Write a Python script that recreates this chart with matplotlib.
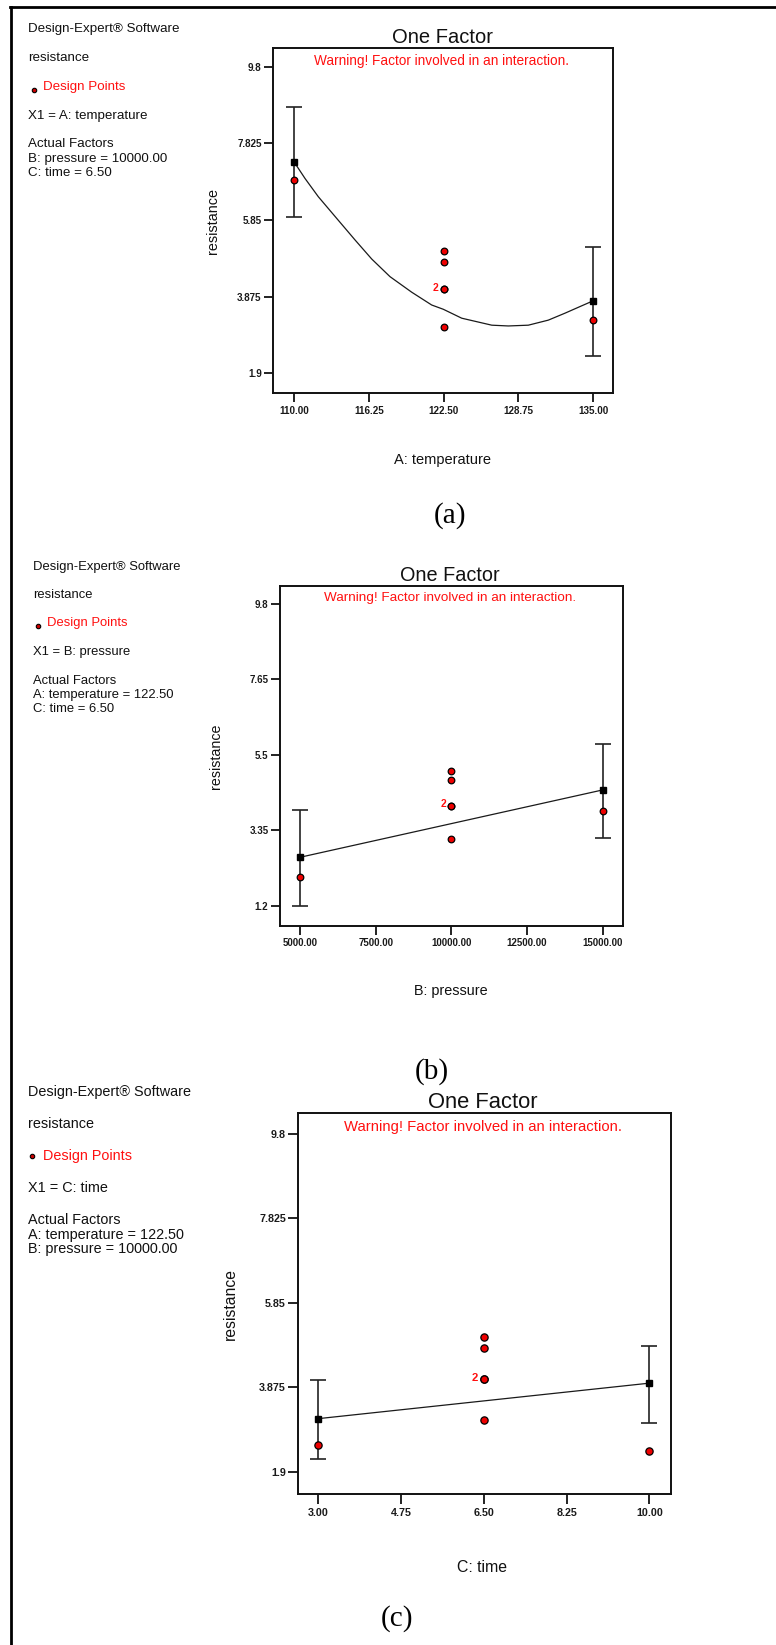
import matplotlib
matplotlib.use('Agg')
import matplotlib.pyplot as plt
from matplotlib.lines import Line2D
import numpy as np

# ---------------- data ----------------
# Panel (a): A: temperature
a_xticks = [110.00, 116.25, 122.50, 128.75, 135.00]
a_xticklabels = ["110.00", "116.25", "122.50", "128.75", "135.00"]
a_yticks = [1.9, 3.875, 5.85, 7.825, 9.8]
a_yticklabels = ["1.9", "3.875", "5.85", "7.825", "9.8"]
a_curve_x = [110.0, 110.92, 112.03, 113.57, 115.10, 116.49, 118.02, 119.83, 121.5,
             122.47, 124.01, 126.52, 127.9, 129.57, 131.24, 132.64, 133.89, 135.0]
a_curve_y = [7.35, 6.92, 6.45, 5.89, 5.335, 4.845, 4.39, 3.99, 3.66,
             3.55, 3.32, 3.14, 3.12, 3.14, 3.27, 3.45, 3.62, 3.77]
a_end_x = [110.0, 135.0]
a_end_pred = [7.35, 3.77]
a_end_lo = [5.94, 2.345]
a_end_hi = [8.77, 5.155]
a_pts_x = [110.0, 122.5, 122.5, 122.5, 122.5, 122.5, 135.0]
a_pts_y = [6.89, 5.05, 4.78, 4.06, 4.06, 3.10, 3.27]
a_dup = (122.5, 4.06)

# Panel (b): B: pressure
b_xticks = [5000, 7500, 10000, 12500, 15000]
b_xticklabels = ["5000.00", "7500.00", "10000.00", "12500.00", "15000.00"]
b_yticks = [1.2, 3.35, 5.5, 7.65, 9.8]
b_yticklabels = ["1.2", "3.35", "5.5", "7.65", "9.8"]
b_line_x = [5000, 15000]
b_line_y = [2.58, 4.50]
b_end_x = [5000, 15000]
b_end_pred = [2.58, 4.50]
b_end_lo = [1.20, 3.12]
b_end_hi = [3.93, 5.81]
b_pts_x = [5000, 10000, 10000, 10000, 10000, 10000, 15000]
b_pts_y = [2.01, 5.03, 4.79, 4.04, 4.04, 3.11, 3.91]
b_dup = (10000, 4.04)

# Panel (c): C: time
c_xticks = [3.00, 4.75, 6.50, 8.25, 10.00]
c_xticklabels = ["3.00", "4.75", "6.50", "8.25", "10.00"]
c_yticks = [1.9, 3.875, 5.85, 7.825, 9.8]
c_yticklabels = ["1.9", "3.875", "5.85", "7.825", "9.8"]
c_line_x = [3.0, 10.0]
c_line_y = [3.14, 3.97]
c_end_x = [3.0, 10.0]
c_end_pred = [3.14, 3.97]
c_end_lo = [2.20, 3.04]
c_end_hi = [4.05, 4.83]
c_pts_x = [3.0, 6.5, 6.5, 6.5, 6.5, 6.5, 10.0]
c_pts_y = [2.53, 5.05, 4.79, 4.06, 4.06, 3.11, 2.38]
c_dup = (6.5, 4.06)

# ---------------- figure ----------------
W, H = 776, 1645
DPI = 100
plt.rcParams['font.family'] = ['Liberation Sans', 'DejaVu Sans']
fig = plt.figure(figsize=(W / DPI, H / DPI), dpi=DPI)
fig.patch.set_facecolor('white')


def rect(l, t, r, b):
    return [l / W, 1 - b / H, (r - l) / W, (b - t) / H]


def fx(x):
    return x / W


def fy(y):
    return 1 - y / H


RED = '#ff1010'


def panel(box, xlim, ylim, xticks, xtl, yticks, ytl, lx, ly, ex, ep, elo, ehi,
          px, py, dup, xlabel, s, xl_pos, yl_pos, title_pos, warn_pos):
    ax = fig.add_axes(rect(*box))
    ax.set_xlim(*xlim)
    ax.set_ylim(*ylim)
    for sp in ax.spines.values():
        sp.set_linewidth(1.4)
        sp.set_color('#111111')
    ax.set_xticks(xticks)
    ax.set_xticklabels(xtl, fontweight='bold')
    ax.set_yticks(yticks)
    ax.set_yticklabels(ytl, fontweight='bold')
    ax.tick_params(direction='out', length=6.5 * s, width=1.3, color='#111111',
                   labelsize=7.1 * s, labelcolor='#1a1a1a')
    ax.tick_params(axis='x', pad=2.5)
    ax.tick_params(axis='y', pad=1.9)
    # model line
    ax.plot(lx, ly, color='#1a1a1a', lw=0.9, zorder=2)
    # error bars at end points
    ep_a = np.array(ep)
    yerr = [ep_a - np.array(elo), np.array(ehi) - ep_a]
    ax.errorbar(ex, ep, yerr=yerr, fmt='none', ecolor='#222222',
                elinewidth=1.2, capsize=5.5 * s, capthick=1.2, zorder=3)
    ax.plot(ex, ep, 's', color='black', ms=4.4 * s, zorder=5)
    # design points
    ax.plot(px, py, 'o', ls='none', mfc='#ee0000', mec='black', ms=4.8 * s,
            mew=0.9, zorder=4)
    ax.annotate('2', dup, xytext=(-6 * s, 1.2), textcoords='offset points',
                color=RED, fontsize=7.5 * s, fontweight='bold',
                ha='center', va='center', zorder=6)
    # labels
    ax.set_xlabel(xlabel, fontsize=10.5 * s, color='#111111')
    ax.xaxis.set_label_coords(*xl_pos)
    ax.xaxis.label.set_va('center')
    ax.set_ylabel('resistance', fontsize=10.4 * s, color='#111111')
    ax.yaxis.set_label_coords(*yl_pos)
    ax.yaxis.label.set_va('center')
    ax.yaxis.label.set_ha('center')
    ax.text(title_pos[0], title_pos[1], 'One Factor', transform=ax.transAxes,
            fontsize=14.5 * s, ha='center', va='baseline', color='#111111')
    ax.text(warn_pos[0], warn_pos[1], 'Warning! Factor involved in an interaction.',
            transform=ax.transAxes, fontsize=9.8 * s, ha='center', va='center',
            color=RED)
    return ax


panel((273.3, 48.3, 612.7, 393.3), (108.27, 136.62), (1.385, 10.274),
      a_xticks, a_xticklabels, a_yticks, a_yticklabels,
      a_curve_x, a_curve_y, a_end_x, a_end_pred, a_end_lo, a_end_hi,
      a_pts_x, a_pts_y, a_dup, 'A: temperature', 1.0,
      (0.499, -0.193), (-0.1786, 0.5), (0.498, 1.0145), (0.4956, 0.964))

panel((280.0, 586.0, 622.7, 925.7), (4339, 15661), (0.63, 10.313),
      b_xticks, b_xticklabels, b_yticks, b_yticklabels,
      b_line_x, b_line_y, b_end_x, b_end_pred, b_end_lo, b_end_hi,
      b_pts_x, b_pts_y, b_dup, 'B: pressure', 0.99,
      (0.497, -0.191), (-0.187, 0.5), (0.4946, 1.0156), (0.497, 0.9656))

panel((298.3, 1113.3, 670.7, 1494.3), (2.577, 10.45), (1.371, 10.28),
      c_xticks, c_xticklabels, c_yticks, c_yticklabels,
      c_line_x, c_line_y, c_end_x, c_end_pred, c_end_lo, c_end_hi,
      c_pts_x, c_pts_y, c_dup, 'C: time', 1.09,
      (0.493, -0.1916), (-0.1834, 0.5), (0.494, 1.0147), (0.497, 0.963))


# ---------------- left info text ----------------
def info(x0, ys, marker_xy, dp_x, lines_after, fs):
    fig.text(fx(x0), fy(ys[0]), 'Design-Expert® Software', fontsize=fs,
             ha='left', va='center', color='#111111')
    fig.text(fx(x0), fy(ys[1]), 'resistance', fontsize=fs, ha='left',
             va='center', color='#111111')
    fig.add_artist(Line2D([fx(marker_xy[0])], [fy(marker_xy[1])], marker='o',
                          ms=3.2, mfc='#cc0000', mec='black', mew=0.8,
                          ls='none', transform=fig.transFigure))
    fig.text(fx(dp_x), fy(ys[2]), 'Design Points', fontsize=fs, ha='left',
             va='center', color=RED)
    for txt, yy in lines_after:
        fig.text(fx(x0), fy(yy), txt, fontsize=fs, ha='left', va='center',
                 color='#111111')


info(28.3, [29.0, 57.7, 87.0], (33.7, 90.0), 43.3,
     [('X1 = A: temperature', 115.7), ('Actual Factors', 144.3),
      ('B: pressure = 10000.00', 159.0), ('C: time = 6.50', 173.3)], 9.6)

info(32.7, [566.7, 595.0, 623.3], (38.3, 626.0), 46.7,
     [('X1 = B: pressure', 652.3), ('Actual Factors', 680.7),
      ('A: temperature = 122.50', 695.0), ('C: time = 6.50', 709.0)], 9.4)

info(27.7, [1092.3, 1124.3, 1155.7], (32.3, 1156.0), 43.3,
     [('X1 = C: time', 1187.7), ('Actual Factors', 1220.0),
      ('A: temperature = 122.50', 1235.0), ('B: pressure = 10000.00', 1249.5)], 10.4)

# ---------------- captions ----------------
for cap, (cx, cy) in zip(['(a)', '(b)', '(c)'],
                         [(450, 516), (432, 1072), (397, 1619)]):
    fig.text(fx(cx), fy(cy), cap, fontsize=21, ha='center', va='center',
             family=['Liberation Serif', 'DejaVu Serif'], color='black')

# ---------------- outer border (top and left) ----------------
fig.add_artist(Line2D([fx(10), 1.0], [fy(6.5), fy(6.5)],
                      transform=fig.transFigure, lw=2.0, color='black'))
fig.add_artist(Line2D([fx(10.5), fx(10.5)], [fy(6.5), 0.0],
                      transform=fig.transFigure, lw=2.0, color='black'))

fig.savefig('out.png', dpi=DPI, facecolor='white')
